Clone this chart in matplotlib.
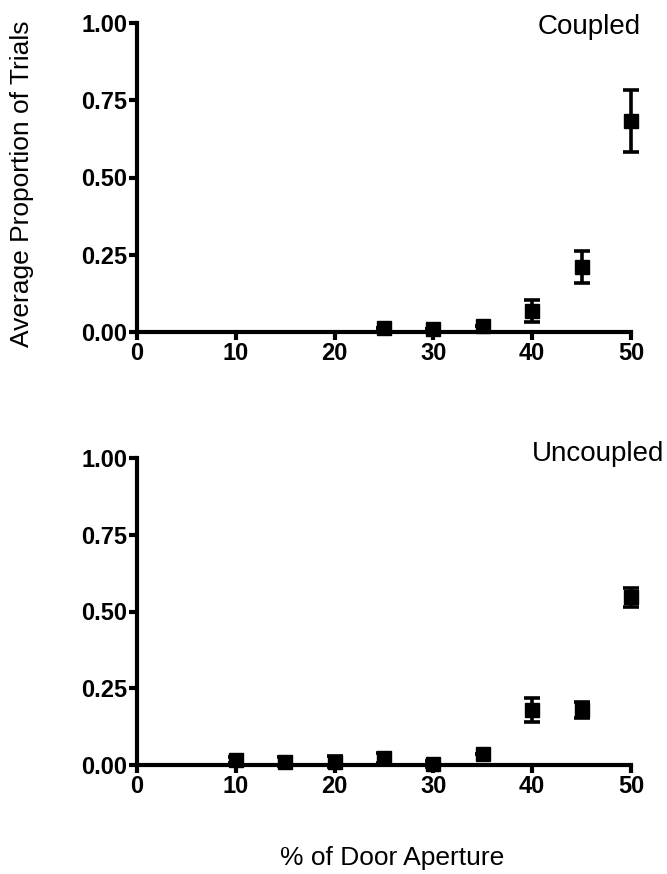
import matplotlib
matplotlib.use("Agg")
import matplotlib.pyplot as plt

plt.rcParams['font.family'] = ['Liberation Sans', 'DejaVu Sans']

# Coupled condition
coupled_x = [25, 30, 35, 40, 45, 50]
coupled_y = [0.013, 0.011, 0.019, 0.068, 0.210, 0.683]
coupled_err = [0.0, 0.0, 0.0, 0.036, 0.051, 0.100]

# Uncoupled condition
uncoupled_x = [10, 15, 20, 25, 30, 35, 40, 45, 50]
uncoupled_y = [0.017, 0.011, 0.011, 0.022, 0.003, 0.036, 0.179, 0.179, 0.546]
uncoupled_err = [0.010, 0.015, 0.017, 0.017, 0.010, 0.0, 0.038, 0.027, 0.030]

x_ticks = [0, 10, 20, 30, 40, 50]
y_ticks = [0.00, 0.25, 0.50, 0.75, 1.00]
y_ticklabels = ["0.00", "0.25", "0.50", "0.75", "1.00"]

W, H = 667, 874
fig = plt.figure(figsize=(W / 100, H / 100), dpi=100)

left = 137 / W
width = (631 - 137) / W
ax1 = fig.add_axes([left, 1 - 332 / H, width, (332 - 23) / H])
ax2 = fig.add_axes([left, 1 - 765 / H, width, (765 - 458) / H])


def style(ax, xs, ys, es):
    ax.errorbar(xs, ys, yerr=es, fmt='s', color='black', markersize=10,
                elinewidth=2.6, capsize=6, capthick=2.6, clip_on=False, zorder=5)
    ax.set_xlim(0, 50)
    ax.set_ylim(0, 1)
    ax.set_xticks(x_ticks)
    ax.set_yticks(y_ticks)
    ax.set_yticklabels(y_ticklabels)
    for s in ['top', 'right']:
        ax.spines[s].set_visible(False)
    for s in ['left', 'bottom']:
        ax.spines[s].set_linewidth(3)
    ax.tick_params(axis='both', direction='out', length=6, width=3, pad=1)
    for lab in ax.get_xticklabels() + ax.get_yticklabels():
        lab.set_fontweight('bold')
        lab.set_fontsize(17)
    ax.set_facecolor('none')


style(ax1, coupled_x, coupled_y, coupled_err)
style(ax2, uncoupled_x, uncoupled_y, uncoupled_err)

fig.text(641 / W, 1 - 27 / H, "Coupled", ha='right', va='center', fontsize=20)
fig.text(532 / W, 1 - 454 / H, "Uncoupled", ha='left', va='center', fontsize=20)

fig.text(22 / W, 1 - 184 / H, "Average Proportion of Trials", rotation=90,
         ha='center', va='center', fontsize=19)
fig.text(392 / W, 1 - 858 / H, "% of Door Aperture", ha='center', va='center',
         fontsize=19)

fig.savefig("out.png", dpi=100)
